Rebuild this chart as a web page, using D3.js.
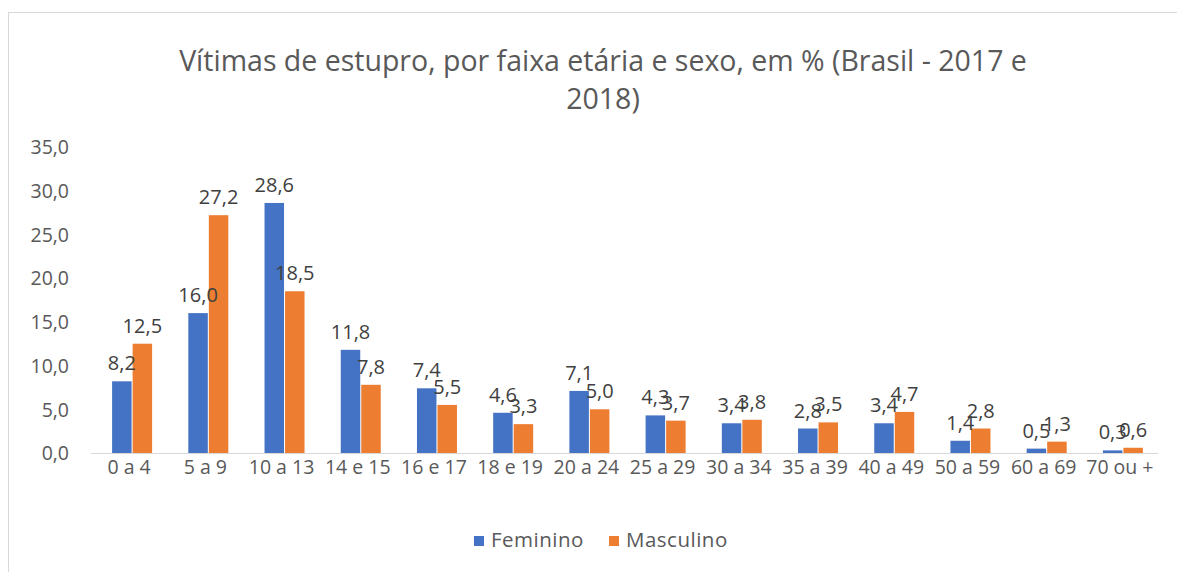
<!DOCTYPE html>
<html>
<head>
<meta charset="utf-8">
<script src="https://cdn.jsdelivr.net/npm/d3@7"></script>
<style>
  body { margin: 0; background: #fff; }
  text { font-family: "Open Sans", "DejaVu Sans", sans-serif; }
</style>
</head>
<body>
<div id="chart"></div>
<script>
// Datos
const faixas = ["0 a 4", "5 a 9", "10 a 13", "14 e 15", "16 e 17", "18 e 19", "20 a 24",
  "25 a 29", "30 a 34", "35 a 39", "40 a 49", "50 a 59", "60 a 69", "70 ou +"];
const feminino = [8.2, 16.0, 28.6, 11.8, 7.4, 4.6, 7.1, 4.3, 3.4, 2.8, 3.4, 1.4, 0.5, 0.3];
const masculino = [12.5, 27.2, 18.5, 7.8, 5.5, 3.3, 5.0, 3.7, 3.8, 3.5, 4.7, 2.8, 1.3, 0.6];
const series = ["Feminino", "Masculino"];
const yTicks = [0, 5, 10, 15, 20, 25, 30, 35];

const WIDTH = 1177;
const HEIGHT = 572;
const colors = { Feminino: "#4472c4", Masculino: "#ed7d31" };

const svg = d3.select("#chart").append("svg")
  .attr("width", WIDTH).attr("height", HEIGHT);

// Borde del área del gráfico
svg.append("rect")
  .attr("x", 8.5).attr("y", 12.5)
  .attr("width", 1190).attr("height", 600)
  .attr("fill", "none").attr("stroke", "#d9d9d9");

// Título
svg.append("text")
  .attr("x", 603).attr("y", 71)
  .attr("text-anchor", "middle")
  .attr("fill", "#595959").style("font-size", "28.5px")
  .text("Vítimas de estupro, por faixa etária e sexo, em % (Brasil - 2017 e");
svg.append("text")
  .attr("x", 603).attr("y", 109)
  .attr("text-anchor", "middle")
  .attr("fill", "#595959").style("font-size", "28.5px")
  .text("2018)");

// Escalas
const x = d3.scaleBand().domain(faixas).range([91, 1158]).padding(0);
const y = d3.scaleLinear().domain([0, 35]).range([453, 147]);
const inner = d3.scaleBand().domain(series).range([-17, 23]).paddingInner(0.05);

const fmt = v => d3.format(".1f")(v).replace(".", ",");

// Eje Y
const yAxis = svg.append("g")
  .attr("transform", "translate(72,0)")
  .call(d3.axisLeft(y).tickValues(yTicks).tickSize(0).tickFormat(fmt));
yAxis.select(".domain").remove();
yAxis.selectAll("text")
  .attr("fill", "#595959").style("font-size", "19.5px")
  .attr("dy", "0.35em");

// Línea base
svg.append("line")
  .attr("x1", 91).attr("x2", 1158)
  .attr("y1", y(0) + 0.5).attr("y2", y(0) + 0.5)
  .attr("stroke", "#d9d9d9");

// Barras
const data = faixas.map((f, i) => ({ faixa: f, Feminino: feminino[i], Masculino: masculino[i] }));

const groups = svg.append("g").selectAll("g")
  .data(data).enter().append("g")
  .attr("transform", d => `translate(${x(d.faixa) + x.bandwidth() / 2},0)`);

groups.selectAll("rect")
  .data(d => series.map(s => ({ s, v: d[s] })))
  .enter().append("rect")
  .attr("x", d => inner(d.s))
  .attr("width", inner.bandwidth())
  .attr("y", d => y(d.v))
  .attr("height", d => y(0) - y(d.v))
  .attr("fill", d => colors[d.s]);

groups.selectAll("text")
  .data(d => series.map(s => ({ s, v: d[s] })))
  .enter().append("text")
  .attr("x", d => inner(d.s) + inner.bandwidth() / 2)
  .attr("y", d => y(d.v) - 11)
  .attr("text-anchor", "middle")
  .attr("fill", "#404040").style("font-size", "20px")
  .text(d => fmt(d.v));

// Eje X
const xAxis = svg.append("g")
  .attr("transform", `translate(0,${y(0)})`)
  .call(d3.axisBottom(x).tickSize(0));
xAxis.select(".domain").remove();
xAxis.selectAll("text")
  .attr("fill", "#595959").style("font-size", "19.5px")
  .attr("y", 0).attr("dy", "21");

// Leyenda
const legend = svg.append("g").attr("transform", "translate(474,532)");
const legendX = [0, 135];
series.forEach((s, i) => {
  legend.append("rect")
    .attr("x", legendX[i]).attr("y", 4)
    .attr("width", 10).attr("height", 10)
    .attr("fill", colors[s]);
  legend.append("text")
    .attr("x", legendX[i] + 17).attr("y", 8)
    .attr("dy", "0.35em")
    .attr("fill", "#595959").style("font-size", "20.5px")
    .style("letter-spacing", "0.5px")
    .text(s);
});
</script>
</body>
</html>
